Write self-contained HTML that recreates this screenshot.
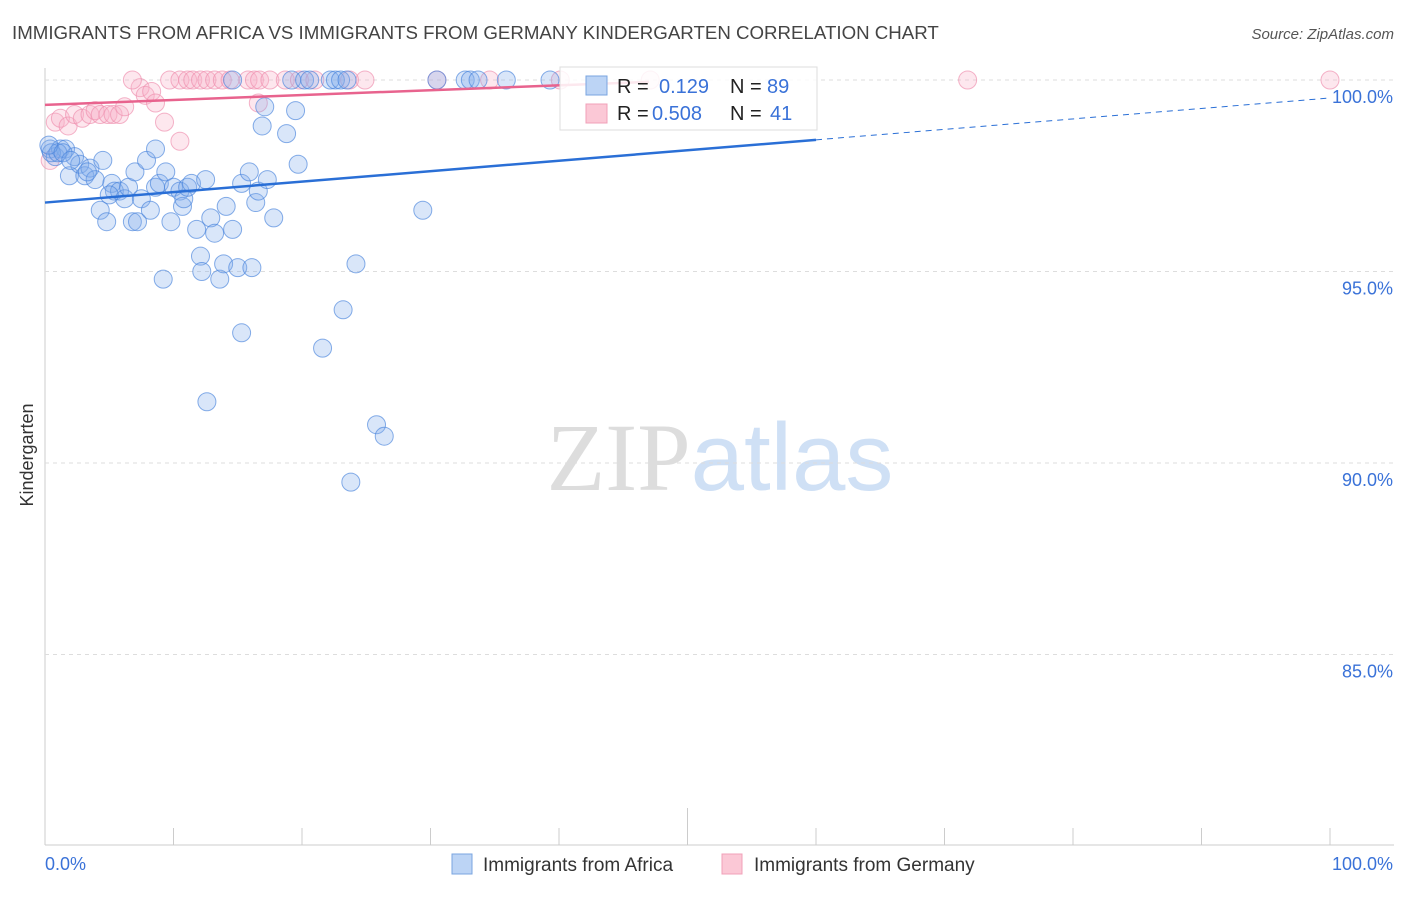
<!DOCTYPE html>
<html><head><meta charset="utf-8"><style>
body{margin:0;background:#fff;font-family:"Liberation Sans",sans-serif;}
svg text{font-family:"Liberation Sans",sans-serif;}
</style></head><body>
<svg id="chart" width="1406" height="892" xmlns="http://www.w3.org/2000/svg">
<text x="12" y="39" font-size="18.7" fill="#444">IMMIGRANTS FROM AFRICA VS IMMIGRANTS FROM GERMANY KINDERGARTEN CORRELATION CHART</text>
<text x="1394" y="39" font-size="15" fill="#555" text-anchor="end" font-style="italic">Source: ZipAtlas.com</text>
<text x="720" y="490" font-size="96" text-anchor="middle"><tspan fill="#ddd" font-family="Liberation Serif">ZIP</tspan><tspan fill="#cfe0f5">atlas</tspan></text>
<text transform="translate(33,455) rotate(-90)" font-size="18" fill="#333" text-anchor="middle">Kindergarten</text>
<g id="grid"></g><g id="pts"></g><g id="lines"></g>
<g>
<rect x="560" y="67" width="257" height="63" fill="rgba(255,255,255,0.85)" stroke="#ddd"/>
<rect x="586" y="76" width="21" height="19" fill="#bcd4f5" stroke="#7aa5e0"/>
<rect x="586" y="104" width="21" height="19" fill="#fbc8d6" stroke="#f0a0b8"/>
<text x="617" y="93" font-size="20" fill="#222">R = </text><text x="659" y="93" font-size="20" fill="#3a72d8">0.129</text>
<text x="730" y="93" font-size="20" fill="#222">N = </text><text x="767" y="93" font-size="20" fill="#3a72d8">89</text>
<text x="617" y="120" font-size="20" fill="#222">R = </text><text x="652" y="120" font-size="20" fill="#3a72d8">0.508</text>
<text x="730" y="120" font-size="20" fill="#222">N = </text><text x="770" y="120" font-size="20" fill="#3a72d8">41</text>
</g>
<g>
<rect x="452" y="854" width="20" height="20" fill="#bcd4f5" stroke="#7aa5e0"/>
<text x="483" y="871" font-size="19" fill="#333">Immigrants from Africa</text>
<rect x="722" y="854" width="20" height="20" fill="#fbc8d6" stroke="#f0a0b8"/>
<text x="754" y="871" font-size="19" fill="#333">Immigrants from Germany</text>
</g>
</svg>
<script>
const xTicks=[0,10,20,30,40,50,60,70,80,90,100];
const yTicks=[100,95,90,85];
const yTickLabels=["100.0%","95.0%","90.0%","85.0%"];
const xEndLabels=["0.0%","100.0%"];
const africaX=[0.4,0.8,1.2,1.6,2.3,1.9,2.7,3.1,3.5,3.9,4.3,4.5,4.8,5.2,5.4,5.8,6.2,6.5,6.8,7.0,7.2,7.5,7.9,8.2,8.6,8.6,8.9,9.2,9.4,9.8,10.0,10.5,10.7,10.8,11.1,11.4,11.8,12.1,12.2,12.5,12.6,12.9,13.2,13.6,13.9,14.1,14.6,15.0,15.3,15.3,15.9,16.1,16.4,16.6,16.9,17.1,17.3,17.8,18.8,19.5,19.7,21.6,23.2,23.8,24.2,25.8,26.4,29.4,14.6,19.2,20.2,20.6,22.2,22.6,23.0,23.5,30.5,32.7,33.1,33.7,35.9,39.3,0.5,1.0,0.3,1.4,2.0,3.3,5.0];
const africaY=[98.2,98.0,98.2,98.2,98.0,97.5,97.8,97.5,97.7,97.4,96.6,97.9,96.3,97.3,97.1,97.1,96.9,97.2,96.3,97.6,96.3,96.9,97.9,96.6,97.2,98.2,97.3,94.8,97.6,96.3,97.2,97.1,96.7,96.9,97.2,97.3,96.1,95.4,95.0,97.4,91.6,96.4,96.0,94.8,95.2,96.7,96.1,95.1,97.3,93.4,97.6,95.1,96.8,97.1,98.8,99.3,97.4,96.4,98.6,99.2,97.8,93.0,94.0,89.5,95.2,91.0,90.7,96.6,100,100,100,100,100,100,100,100,100,100,100,100,100,100,98.1,98.1,98.3,98.1,97.9,97.6,97.0];
const germanyX=[0.4,0.8,1.2,1.8,2.3,2.9,3.5,3.9,4.3,4.9,5.3,5.8,6.2,7.4,7.8,8.3,8.6,9.3,10.5,16.6,6.8,9.7,10.5,11.1,11.5,12.1,12.6,13.2,13.8,14.4,15.8,16.3,16.7,17.5,18.7,19.8,21.0,23.7,24.9,30.5,34.6,40.1,47.1,71.8,100];
const germanyY=[97.9,98.9,99.0,98.8,99.1,99.0,99.1,99.2,99.1,99.1,99.1,99.1,99.3,99.8,99.6,99.7,99.4,98.9,98.4,99.4,100,100,100,100,100,100,100,100,100,100,100,100,100,100,100,100,100,100,100,100,100,100,100,100,100];
const africaTrend=[96.8,99.53], africaSolidEnd=60;
const germanyTrend=[99.35,100.63], germanySolidEnd=47;
const NS="http://www.w3.org/2000/svg";
const X=v=>45+v*12.85, Y=v=>80+(100-v)*38.3;
function mk(tag,attrs,parent){const e=document.createElementNS(NS,tag);for(const k in attrs)e.setAttribute(k,attrs[k]);parent.appendChild(e);return e;}
const grid=document.getElementById('grid'),pts=document.getElementById('pts'),lines=document.getElementById('lines');
let ax=mk('line',{x1:45,y1:68,x2:45,y2:845,stroke:'#ccc'},grid);

let bx=mk('line',{x1:45,y1:845,x2:1394,y2:845,stroke:'#ccc'},grid);

yTicks.forEach((t,i)=>{
 const g=mk('line',{x1:45,y1:Y(t),x2:1394,y2:Y(t),stroke:'#ddd','stroke-dasharray':'4,4'},grid);
 
 const l=mk('text',{x:1393,y:Y(t)+23,'font-size':18,fill:'#3a72d8','text-anchor':'end'},grid);
 l.textContent=yTickLabels[i];
 
});
xTicks.forEach((t,i)=>{
 const m=mk('line',{x1:X(t),y1:(t===50?808:828),x2:X(t),y2:845,stroke:'#ccc'},grid);
 
});
[[0,'start',45],[1,'end',1393]].forEach(([i,a,x])=>{
 const l=mk('text',{x:x,y:870,'font-size':18,fill:'#3a72d8','text-anchor':a},grid);
 l.textContent=xEndLabels[i];
 
});
function drawPts(xs,ys,fill,stroke,name){
 xs.forEach((x,i)=>{const c=mk('circle',{cx:X(x),cy:Y(ys[i]),r:9,fill:fill,stroke:stroke,'stroke-width':1},pts);
 });
}
drawPts(germanyX,germanyY,'rgba(248,175,198,0.3)','rgba(238,140,172,0.65)','germany-point');
drawPts(africaX,africaY,'rgba(130,172,235,0.3)','rgba(70,130,220,0.65)','africa-point');
function trend(tr,end,color,name){
 const f=x=>tr[0]+(tr[1]-tr[0])*x/100;
 const s=mk('line',{x1:X(0),y1:Y(f(0)),x2:X(end),y2:Y(f(end)),stroke:color,'stroke-width':2.5},lines);
 
 const d=mk('line',{x1:X(end),y1:Y(f(end)),x2:X(100),y2:Y(f(100)),stroke:color,'stroke-width':1,'stroke-dasharray':'6,5'},lines);
 
}
trend(africaTrend,africaSolidEnd,'#2a6fd6','africa-trendline');
(function(){const f=x=>germanyTrend[0]+(germanyTrend[1]-germanyTrend[0])*x/100;
 const s=mk('line',{x1:X(0),y1:Y(f(0)),x2:X(germanySolidEnd),y2:Y(f(germanySolidEnd)),stroke:'#e8638e','stroke-width':2.5},lines);
 })();
</script>
</body></html>
